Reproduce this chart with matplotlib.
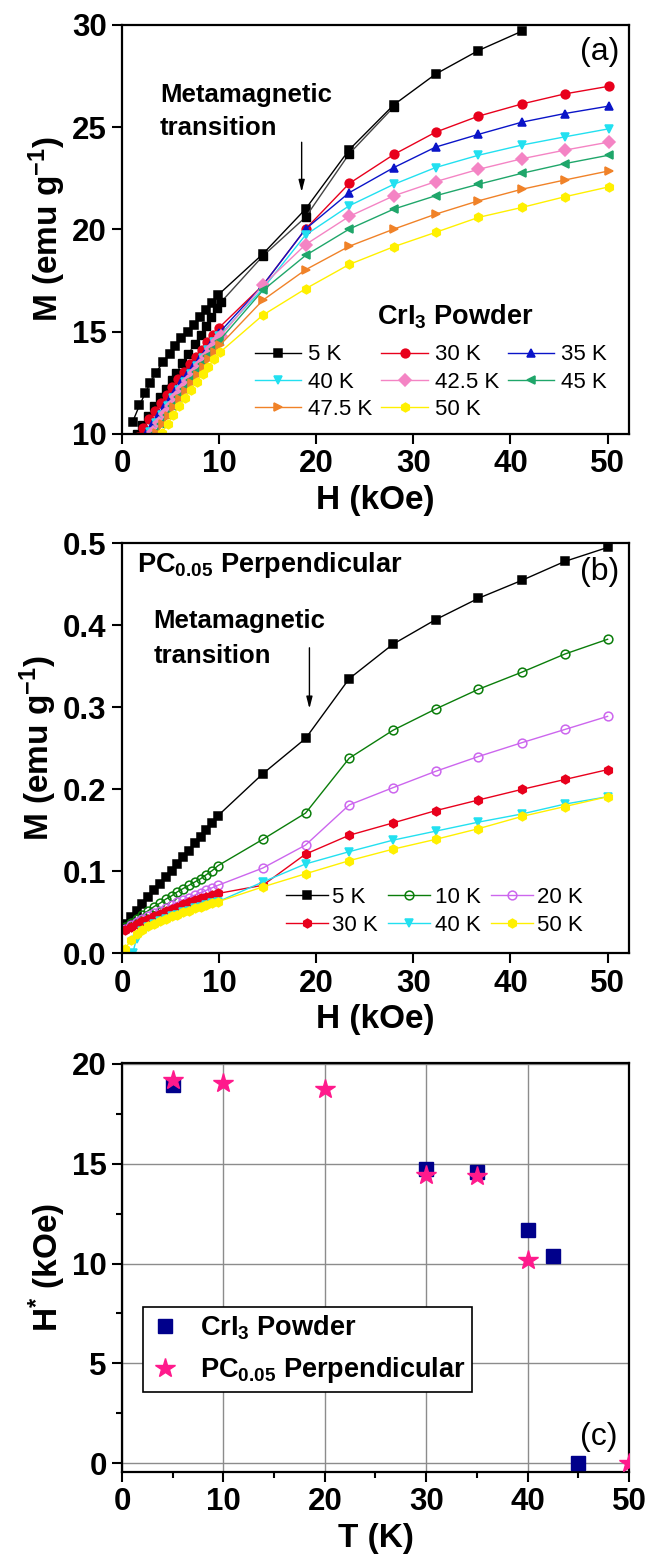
import matplotlib
matplotlib.use("Agg")
import matplotlib.pyplot as plt

plt.rcParams["font.family"] = ["Liberation Sans", "DejaVu Sans"]
plt.rcParams["mathtext.fontset"] = "custom"
plt.rcParams["mathtext.rm"] = "Liberation Sans:bold"
plt.rcParams["mathtext.bf"] = "Liberation Sans:bold"
plt.rcParams["mathtext.it"] = "Liberation Sans:italic:bold"
plt.rcParams["mathtext.default"] = "rm"

# ---------------- (a) CrI3 powder, M(H) ----------------
H5_up = [1.1, 1.8, 2.4, 2.9, 3.5, 4.2, 4.9, 5.5, 6.1, 6.8, 7.4, 8.0, 8.7, 9.3, 9.9,
         14.5, 18.9, 23.4, 28.0, 32.3, 36.7, 41.2]
M5_up = [10.6, 11.4, 12.0, 12.5, 13.0, 13.5, 13.9, 14.3, 14.7, 15.0, 15.35, 15.7, 16.05, 16.4, 16.8,
         18.8, 21.0, 23.9, 26.1, 27.6, 28.75, 29.7]
H5_dn = [1.5, 2.1, 2.7, 3.3, 3.9, 4.5, 5.1, 5.6, 6.2, 6.8, 7.5, 8.1, 8.7, 9.2, 9.8, 10.2,
         14.5, 18.9, 23.4, 28.0]
M5_dn = [10.0, 10.45, 10.9, 11.35, 11.8, 12.22, 12.66, 13.0, 13.45, 13.9, 14.4, 14.85, 15.3, 15.7, 16.15, 16.45,
         18.7, 20.6, 23.7, 26.0]

H_high = [14.5, 18.9, 23.4, 28.0, 32.3, 36.7, 41.2, 45.6, 50.1]

H30 = [1.6, 2.2, 2.8, 3.4, 4.0, 4.6, 5.2, 5.8, 6.4, 7.0, 7.6, 8.2, 8.8, 9.4, 10.0]
M30 = [9.85, 10.3, 10.72, 11.12, 11.52, 11.92, 12.3, 12.68, 13.05, 13.42, 13.77, 14.12, 14.48, 14.82, 15.2]
M30_high = [17.27, 20.02, 22.25, 23.67, 24.76, 25.54, 26.14, 26.63, 27.0]

H35 = [2.0, 2.6, 3.2, 3.8, 4.4, 5.0, 5.6, 6.2, 6.8, 7.4, 8.0, 8.6, 9.2, 10.0]
M35 = [9.65, 10.1, 10.55, 10.98, 11.4, 11.82, 12.22, 12.62, 13.0, 13.37, 13.73, 14.08, 14.42, 14.95]
M35_high = [17.27, 20.02, 21.8, 23.03, 24.03, 24.65, 25.25, 25.67, 26.03]

H40 = [2.3, 2.9, 3.5, 4.1, 4.7, 5.3, 5.9, 6.5, 7.1, 7.7, 8.3, 8.9, 9.5, 10.0]
M40 = [9.65, 10.1, 10.52, 10.94, 11.35, 11.76, 12.16, 12.56, 12.95, 13.34, 13.72, 14.1, 14.48, 14.8]
M40_high = [17.1, 19.73, 21.16, 22.21, 23.03, 23.63, 24.13, 24.53, 24.92]

H42 = [2.6, 3.2, 3.8, 4.4, 5.0, 5.6, 6.2, 6.8, 7.4, 8.0, 8.6, 9.2, 9.8, 10.2]
M42 = [9.65, 10.1, 10.53, 10.96, 11.38, 11.8, 12.21, 12.61, 13.0, 13.39, 13.77, 14.15, 14.55, 14.8]
M42_high = [17.27, 19.26, 20.64, 21.65, 22.34, 22.94, 23.46, 23.88, 24.27]

H45 = [2.8, 3.4, 4.0, 4.6, 5.2, 5.8, 6.4, 7.0, 7.6, 8.2, 8.8, 9.4, 10.0]
M45 = [9.6, 10.05, 10.5, 10.95, 11.38, 11.8, 12.22, 12.63, 13.03, 13.42, 13.8, 14.18, 14.55]
M45_high = [17.02, 18.73, 20.02, 21.0, 21.65, 22.21, 22.75, 23.22, 23.63]

H47 = [3.0, 3.6, 4.2, 4.8, 5.4, 6.0, 6.6, 7.2, 7.8, 8.4, 9.0, 9.6, 10.1]
M47 = [9.6, 10.05, 10.48, 10.9, 11.31, 11.72, 12.12, 12.51, 12.9, 13.28, 13.65, 14.02, 14.35]
M47_high = [16.54, 18.03, 19.18, 20.02, 20.75, 21.4, 21.97, 22.42, 22.86]

H50 = [3.5, 4.1, 4.7, 5.3, 5.9, 6.5, 7.1, 7.7, 8.3, 8.9, 9.5, 10.1]
M50 = [9.6, 10.05, 10.5, 10.93, 11.35, 11.76, 12.16, 12.55, 12.93, 13.3, 13.66, 14.0]
M50_high = [15.81, 17.1, 18.29, 19.16, 19.86, 20.59, 21.08, 21.6, 22.08]

# ---------------- (b) PC0.05 perpendicular, M(H) ----------------
Hb_low = [0.3, 0.9, 1.5, 2.1, 2.7, 3.3, 3.9, 4.5, 5.1, 5.7, 6.3, 6.9, 7.5, 8.1, 8.7, 9.3, 9.9]
Hb_high = [14.5, 18.9, 23.4, 27.9, 32.3, 36.7, 41.2, 45.6, 50.0]

Mb5_low = [0.036, 0.044, 0.052, 0.060, 0.069, 0.077, 0.085, 0.093, 0.101, 0.109, 0.117, 0.125, 0.134, 0.142, 0.150, 0.159, 0.168]
Mb5_high = [0.219, 0.262, 0.335, 0.377, 0.407, 0.433, 0.455, 0.478, 0.495]
Mb10_low = [0.032, 0.037, 0.042, 0.047, 0.052, 0.057, 0.061, 0.066, 0.070, 0.075, 0.079, 0.083, 0.087, 0.091, 0.096, 0.101, 0.107]
Mb10_high = [0.139, 0.171, 0.238, 0.272, 0.298, 0.322, 0.343, 0.365, 0.383]
Mb20_low = [0.030, 0.034, 0.038, 0.042, 0.045, 0.049, 0.052, 0.055, 0.059, 0.062, 0.065, 0.068, 0.071, 0.074, 0.077, 0.080, 0.083]
Mb20_high = [0.104, 0.132, 0.181, 0.202, 0.222, 0.240, 0.257, 0.273, 0.289]
Mb30_low = [0.028, 0.032, 0.036, 0.039, 0.042, 0.045, 0.048, 0.051, 0.054, 0.057, 0.060, 0.062, 0.065, 0.067, 0.069, 0.071, 0.073]
Mb30_high = [0.083, 0.121, 0.144, 0.159, 0.174, 0.187, 0.200, 0.212, 0.224]
Hb40_low = [1.1, 1.5, 2.1, 2.7, 3.3, 3.9, 4.5, 5.1, 5.7, 6.3, 6.9, 7.5, 8.1, 8.7, 9.3, 9.9]
Mb40_low = [0.000, 0.018, 0.027, 0.032, 0.036, 0.039, 0.042, 0.045, 0.047, 0.050, 0.052, 0.055, 0.057, 0.059, 0.061, 0.063]
Mb40_high = [0.087, 0.109, 0.124, 0.138, 0.149, 0.160, 0.170, 0.182, 0.191]
Mb50_low = [0.005, 0.016, 0.024, 0.029, 0.033, 0.036, 0.039, 0.042, 0.045, 0.047, 0.050, 0.052, 0.055, 0.057, 0.059, 0.061, 0.063]
Mb50_high = [0.081, 0.097, 0.113, 0.127, 0.139, 0.152, 0.167, 0.179, 0.191]

# ---------------- (c) critical field H* vs T ----------------
T_powder = [5, 30, 35, 40, 42.5, 45]
Hc_powder = [18.95, 14.75, 14.6, 11.7, 10.4, 0.0]
T_perp = [5, 10, 20, 30, 35, 40, 50]
Hc_perp = [19.2, 19.05, 18.75, 14.45, 14.4, 10.2, 0.0]

fig = plt.figure(figsize=(6.59, 15.6), dpi=100)
ax_a = fig.add_axes([0.1851, 0.7218, 0.7693, 0.2622])
ax_b = fig.add_axes([0.1851, 0.3889, 0.7693, 0.2628])
ax_c = fig.add_axes([0.1851, 0.0564, 0.7693, 0.2622])

lw = 1.0
ms = 6.3


def curve(ax, h, m, color, marker, label=None, mfc=None):
    line, = ax.plot(h, m, color=color, marker=marker, ms=ms, lw=lw,
                    mfc=color if mfc is None else mfc, mec=color, mew=1.1, label=label)
    return line


# panel (a)
l5 = curve(ax_a, H5_up, M5_up, "black", "s", "5 K")
ax_a.plot(H5_dn, M5_dn, color="#444444", marker="s", ms=ms, lw=lw, mfc="black", mec="black")
l30 = curve(ax_a, H30 + H_high, M30 + M30_high, "#e8001c", "o", "30 K")
l35 = curve(ax_a, H35 + H_high, M35 + M35_high, "#0a14c8", "^", "35 K")
l40 = curve(ax_a, H40 + H_high, M40 + M40_high, "#22e0f0", "v", "40 K")
l42 = curve(ax_a, H42 + H_high, M42 + M42_high, "#f484c4", "D", "42.5 K")
l45 = curve(ax_a, H45 + H_high, M45 + M45_high, "#1fa66a", "<", "45 K")
l47 = curve(ax_a, H47 + H_high, M47 + M47_high, "#f08228", ">", "47.5 K")
l50 = curve(ax_a, H50 + H_high, M50 + M50_high, "#fff000", "h", "50 K")

ax_a.set_xlim(0, 52.2)
ax_a.set_ylim(10, 30)
ax_a.set_yticks([10, 15, 20, 25, 30])
ax_a.set_xticks([0, 10, 20, 30, 40, 50])

ax_a.text(3.9, 26.25, "Metamagnetic", fontsize=18.5, fontweight="bold")
ax_a.text(3.9, 24.62, "transition", fontsize=18.5, fontweight="bold")
ax_a.annotate("", xy=(18.5, 21.7), xytext=(18.5, 24.4),
              arrowprops=dict(arrowstyle="-|>,head_width=0.18,head_length=0.7", color="black", lw=1.0))
ax_a.text(49.2, 28.7, "(a)", fontsize=23, ha="center", va="center")
ax_a.text(26.3, 15.33, "CrI$_3$ Powder", fontsize=19.5, fontweight="bold")

ax_a.legend(handles=[l5, l40, l47, l30, l42, l50, l35, l45], ncol=3, loc="upper left",
            bbox_to_anchor=(0.262, 0.219), frameon=False, fontsize=16, borderpad=0,
            handlelength=2.1, handletextpad=0.3, columnspacing=0.4, labelspacing=0.28,
            borderaxespad=0)

# panel (b)
m5 = curve(ax_b, Hb_low + Hb_high, Mb5_low + Mb5_high, "black", "s", "5 K")
m10 = curve(ax_b, Hb_low + Hb_high, Mb10_low + Mb10_high, "#0a7d0a", "o", "10 K", mfc="none")
m20 = curve(ax_b, Hb_low + Hb_high, Mb20_low + Mb20_high, "#cc66ee", "o", "20 K", mfc="none")
m30 = curve(ax_b, Hb_low + Hb_high, Mb30_low + Mb30_high, "#e8001c", "h", "30 K")
m40 = curve(ax_b, Hb40_low + Hb_high, Mb40_low + Mb40_high, "#22e0f0", "v", "40 K")
m50 = curve(ax_b, Hb_low + Hb_high, Mb50_low + Mb50_high, "#fff000", "h", "50 K")

ax_b.set_xlim(0, 52.2)
ax_b.set_ylim(0, 0.5)
ax_b.set_yticks([0.0, 0.1, 0.2, 0.3, 0.4, 0.5])
ax_b.set_yticklabels(["0.0", "0.1", "0.2", "0.3", "0.4", "0.5"])
ax_b.set_xticks([0, 10, 20, 30, 40, 50])

ax_b.text(1.5, 0.4654, "PC$_{0.05}$ Perpendicular", fontsize=19.5, fontweight="bold")
ax_b.text(3.24, 0.397, "Metamagnetic", fontsize=18.5, fontweight="bold")
ax_b.text(3.24, 0.354, "transition", fontsize=18.5, fontweight="bold")
ax_b.annotate("", xy=(19.3, 0.295), xytext=(19.3, 0.376),
              arrowprops=dict(arrowstyle="-|>,head_width=0.18,head_length=0.7", color="black", lw=1.0))
ax_b.text(49.2, 0.465, "(b)", fontsize=23, ha="center", va="center")

ax_b.legend(handles=[m5, m30, m10, m40, m20, m50], ncol=3, loc="upper left",
            bbox_to_anchor=(0.3229, 0.162), frameon=False, fontsize=16, borderpad=0,
            handlelength=1.9, handletextpad=0.2, columnspacing=0.45, labelspacing=0.3,
            borderaxespad=0)

# panel (c)
ax_c.grid(True, color="#8c8c8c", lw=1.0, zorder=0)
ax_c.set_axisbelow(True)
ax_c.plot(T_powder, Hc_powder, ls="none", marker="s", ms=9.6, color="#00008b",
          label="CrI$_3$ Powder", zorder=3)
ax_c.plot(T_perp, Hc_perp, ls="none", marker="*", ms=15, color="#ff1a8c",
          label="PC$_{0.05}$ Perpendicular", zorder=4)
ax_c.set_xlim(0, 50)
ax_c.set_ylim(-0.45, 20.05)
ax_c.set_xticks([0, 10, 20, 30, 40, 50])
ax_c.set_yticks([0, 5, 10, 15, 20])
ax_c.set_xticks([5, 15, 25, 35, 45], minor=True)
ax_c.set_yticks([2.5, 7.5, 12.5, 17.5], minor=True)
ax_c.text(47.0, 1.3, "(c)", fontsize=23, ha="center", va="center")
leg_c = ax_c.legend(loc="upper left", bbox_to_anchor=(0.0414, 0.4044),
                    prop={"weight": "bold", "size": 19.5}, fancybox=False, framealpha=1,
                    edgecolor="black", borderpad=0.25, handlelength=1.1, handletextpad=0.75,
                    labelspacing=0.5, borderaxespad=0)
leg_c.get_frame().set_linewidth(1.2)

for ax in (ax_a, ax_b, ax_c):
    for sp in ax.spines.values():
        sp.set_linewidth(1.6)
    ax.tick_params(which="major", direction="out", length=7, width=1.5, labelsize=22.5, pad=4)
    ax.tick_params(which="minor", direction="out", length=4, width=1.5)
    for lab in ax.get_xticklabels() + ax.get_yticklabels():
        lab.set_fontweight("bold")

ax_a.set_xlabel("H (kOe)", fontsize=24, fontweight="bold", labelpad=4)
ax_a.set_ylabel("M (emu g$^{-1}$)", fontsize=24, fontweight="bold", labelpad=3)
ax_b.set_xlabel("H (kOe)", fontsize=24, fontweight="bold", labelpad=4)
ax_b.set_ylabel("M (emu g$^{-1}$)", fontsize=24, fontweight="bold", labelpad=3)
ax_c.set_xlabel("T (K)", fontsize=24, fontweight="bold", labelpad=4)
ax_c.set_ylabel("H$^{*}$ (kOe)", fontsize=24, fontweight="bold", labelpad=3)

fig.savefig("out.png", dpi=100)
